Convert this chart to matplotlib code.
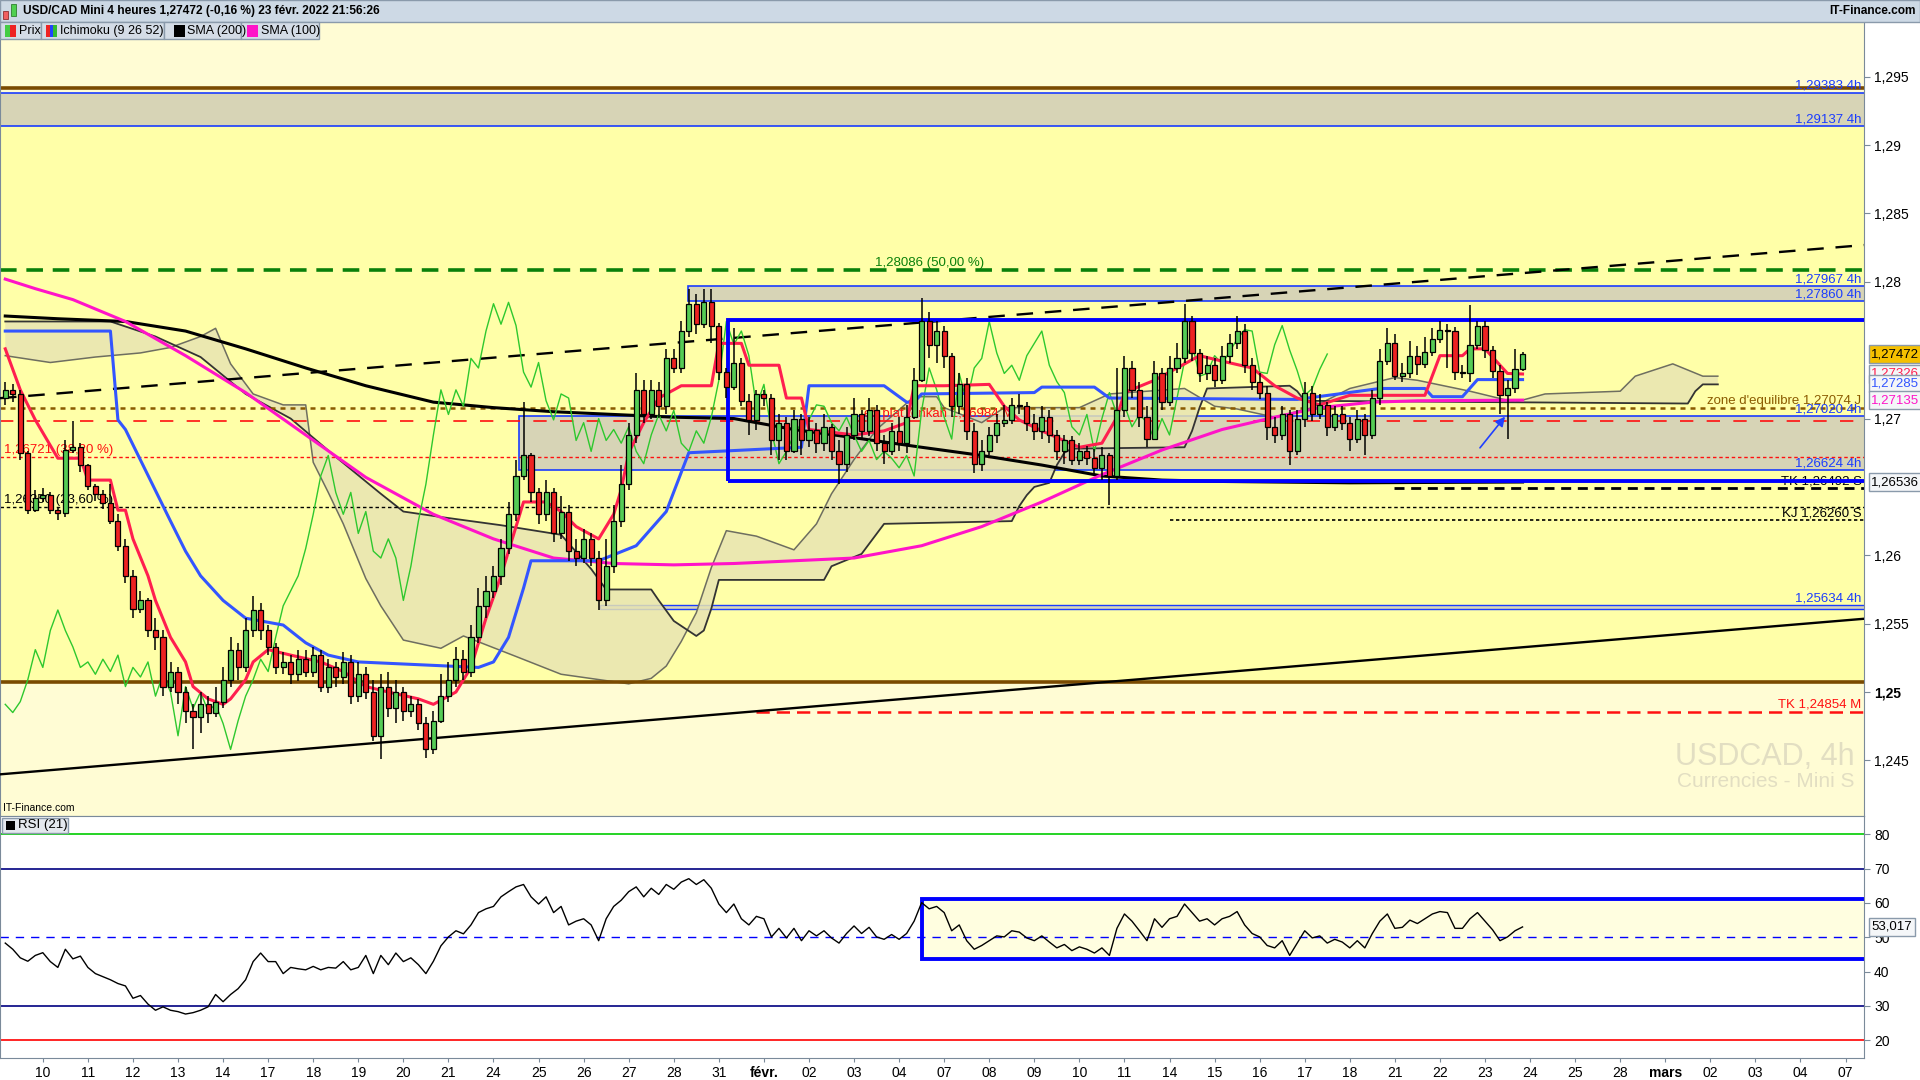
import numpy as np
import matplotlib
matplotlib.use('Agg')
import matplotlib.pyplot as plt
from matplotlib.patches import Rectangle
from matplotlib.transforms import blended_transform_factory

plt.rcParams['font.family'] = ['Liberation Sans', 'DejaVu Sans']

# USD/CAD 4h candles, 7 jan (04h) -> 23 feb 2022 (20h), 6 candles per day
open0 = 1.2715
close = [
    1.2721, 1.2718, 1.2675, 1.2633, 1.2642,
    1.2644, 1.2633, 1.2631, 1.2677, 1.2679, 1.2666,
    1.2651, 1.2645, 1.2638, 1.2625, 1.2607, 1.2585,
    1.2561, 1.2567, 1.2545, 1.2540, 1.2504, 1.2515,
    1.2500, 1.2486, 1.2482, 1.2491, 1.2485, 1.2493,
    1.2509, 1.2531, 1.2518, 1.2545, 1.2560, 1.2545,
    1.2533, 1.2518, 1.2522, 1.2513, 1.2524, 1.2515,
    1.2527, 1.2504, 1.2518, 1.2511, 1.2522, 1.2497,
    1.2513, 1.2500, 1.2468, 1.2504, 1.2488, 1.2500,
    1.2486, 1.2491, 1.2477, 1.2458, 1.2479, 1.2497,
    1.2509, 1.2524, 1.2515, 1.2540, 1.2563, 1.2574,
    1.2585, 1.2605, 1.2630, 1.2658, 1.2673, 1.2646,
    1.2630, 1.2646, 1.2616, 1.2632, 1.2603, 1.2598,
    1.2612, 1.2598, 1.2567, 1.2592, 1.2625, 1.2652,
    1.2688, 1.2721, 1.2703, 1.2721, 1.2709, 1.2744,
    1.2737, 1.2764, 1.2784, 1.2769, 1.2785, 1.2768,
    1.2734, 1.2723, 1.2741, 1.2713, 1.2699, 1.2718,
    1.2715, 1.2684, 1.2697, 1.2676, 1.2700, 1.2684,
    1.2692, 1.2682, 1.2694, 1.2676, 1.2667, 1.2688,
    1.2703, 1.2691, 1.2706, 1.2682, 1.2676, 1.2691,
    1.2682, 1.2701, 1.2728, 1.2771, 1.2754, 1.2764,
    1.2746, 1.2709, 1.2725, 1.2691, 1.2667, 1.2676,
    1.2688, 1.2697, 1.2699, 1.2710, 1.2709, 1.2697,
    1.2691, 1.2701, 1.2688, 1.2676, 1.2684, 1.2670,
    1.2676, 1.2671, 1.2664, 1.2673, 1.2658, 1.2706,
    1.2737, 1.2721, 1.2701, 1.2685, 1.2733, 1.2712,
    1.2737, 1.2744, 1.2771, 1.2748, 1.2733, 1.2739,
    1.2728, 1.2746, 1.2755, 1.2764, 1.2739, 1.2727,
    1.2719, 1.2694, 1.2688, 1.2703, 1.2676, 1.2700,
    1.2719, 1.2703, 1.2710, 1.2694, 1.2703, 1.2697,
    1.2685, 1.2700, 1.2688, 1.2715, 1.2742, 1.2755,
    1.2731, 1.2733, 1.2746, 1.2740, 1.2749, 1.2758,
    1.2765, 1.2764, 1.2734, 1.2733, 1.2754, 1.2768,
    1.2750, 1.2735, 1.2717, 1.2722, 1.2736, 1.27472,
]
high = [
    1.2727, 1.2725, 1.2721, 1.2676, 1.2648,
    1.2649, 1.2646, 1.2635, 1.2684, 1.2698, 1.2682,
    1.2667, 1.2652, 1.2648, 1.2652, 1.2630, 1.2612,
    1.2589, 1.2574, 1.2569, 1.2554, 1.2545, 1.2522,
    1.2518, 1.2504, 1.2491, 1.2500, 1.2497, 1.2504,
    1.2518, 1.2540, 1.2536, 1.2554, 1.2570, 1.2565,
    1.2549, 1.2536, 1.2529, 1.2527, 1.2531, 1.2531,
    1.2533, 1.2531, 1.2524, 1.2522, 1.2529, 1.2527,
    1.2522, 1.2518, 1.2509, 1.2513, 1.2515, 1.2509,
    1.2504, 1.2497, 1.2495, 1.2482, 1.2486, 1.2513,
    1.2522, 1.2533, 1.2531, 1.2549, 1.2576, 1.2585,
    1.2592, 1.2612, 1.2639, 1.2670, 1.2712, 1.2675,
    1.2649, 1.2655, 1.2649, 1.2643, 1.2637, 1.2612,
    1.2619, 1.2616, 1.2603, 1.2612, 1.2637, 1.2666,
    1.2697, 1.2733, 1.2728, 1.2728, 1.2727, 1.2751,
    1.2751, 1.2771, 1.2795, 1.2791, 1.2795, 1.2795,
    1.2770, 1.2737, 1.2766, 1.2744, 1.2718, 1.2721,
    1.2721, 1.2718, 1.2703, 1.2701, 1.2706, 1.2703,
    1.2701, 1.2697, 1.2703, 1.2696, 1.2684, 1.2694,
    1.2715, 1.2706, 1.2715, 1.2710, 1.2688, 1.2697,
    1.2701, 1.2710, 1.2737, 1.2788, 1.2778, 1.2771,
    1.2768, 1.2748, 1.2733, 1.2730, 1.2697, 1.2684,
    1.2694, 1.2703, 1.2710, 1.2715, 1.2718, 1.2712,
    1.2703, 1.2709, 1.2706, 1.2692, 1.2688, 1.2687,
    1.2682, 1.2680, 1.2678, 1.2679, 1.2675, 1.2737,
    1.2746, 1.2742, 1.2727, 1.2709, 1.2742, 1.2737,
    1.2746, 1.2755, 1.2784, 1.2775, 1.2751, 1.2746,
    1.2744, 1.2753, 1.2762, 1.2775, 1.2769, 1.2744,
    1.2733, 1.2724, 1.2701, 1.2709, 1.2706, 1.2706,
    1.2727, 1.2724, 1.2718, 1.2712, 1.2709, 1.2709,
    1.2701, 1.2706, 1.2703, 1.2721, 1.2751, 1.2766,
    1.2762, 1.2741, 1.2757, 1.2753, 1.2760, 1.2766,
    1.2771, 1.2769, 1.2767, 1.2739, 1.2783, 1.2771,
    1.2771, 1.2753, 1.2739, 1.2728, 1.2751, 1.2749,
]
low = [
    1.2710, 1.2712, 1.2670, 1.2630, 1.2632,
    1.2639, 1.2630, 1.2626, 1.2628, 1.2675, 1.2661,
    1.2648, 1.2640, 1.2634, 1.2623, 1.2603, 1.2580,
    1.2554, 1.2558, 1.2540, 1.2531, 1.2497, 1.2500,
    1.2491, 1.2477, 1.2458, 1.2470, 1.2477, 1.2482,
    1.2488, 1.2504, 1.2509, 1.2515, 1.2540, 1.2538,
    1.2527, 1.2513, 1.2513, 1.2506, 1.2508, 1.2511,
    1.2511, 1.2500, 1.2499, 1.2504, 1.2506, 1.2491,
    1.2493, 1.2495, 1.2464, 1.2451, 1.2482, 1.2477,
    1.2479, 1.2482, 1.2472, 1.2452, 1.2455, 1.2477,
    1.2493, 1.2504, 1.2509, 1.2511, 1.2536, 1.2554,
    1.2569, 1.2578, 1.2601, 1.2625, 1.2655, 1.2639,
    1.2623, 1.2625, 1.2610, 1.2612, 1.2596, 1.2592,
    1.2594, 1.2592, 1.2560, 1.2563, 1.2587, 1.2621,
    1.2648, 1.2682, 1.2697, 1.2700, 1.2701, 1.2703,
    1.2733, 1.2733, 1.2760, 1.2762, 1.2766, 1.2755,
    1.2728, 1.2715, 1.2721, 1.2709, 1.2688, 1.2692,
    1.2709, 1.2673, 1.2670, 1.2670, 1.2675, 1.2673,
    1.2679, 1.2675, 1.2676, 1.2670, 1.2652, 1.2661,
    1.2684, 1.2685, 1.2687, 1.2676, 1.2667, 1.2673,
    1.2676, 1.2675, 1.2700, 1.2727, 1.2744, 1.2741,
    1.2737, 1.2701, 1.2703, 1.2684, 1.2660, 1.2662,
    1.2673, 1.2682, 1.2694, 1.2696, 1.2703, 1.2691,
    1.2684, 1.2685, 1.2682, 1.2670, 1.2667, 1.2666,
    1.2666, 1.2666, 1.2658, 1.2655, 1.2637, 1.2655,
    1.2701, 1.2715, 1.2694, 1.2679, 1.2684, 1.2706,
    1.2709, 1.2733, 1.2741, 1.2742, 1.2727, 1.2728,
    1.2723, 1.2725, 1.2741, 1.2751, 1.2733, 1.2721,
    1.2714, 1.2684, 1.2682, 1.2684, 1.2666, 1.2673,
    1.2694, 1.2698, 1.2700, 1.2687, 1.2691, 1.2692,
    1.2676, 1.2682, 1.2673, 1.2685, 1.2710, 1.2739,
    1.2728, 1.2727, 1.2730, 1.2732, 1.2737, 1.2746,
    1.2755, 1.2737, 1.2728, 1.2730, 1.2727, 1.2751,
    1.2744, 1.2730, 1.2703, 1.2685, 1.2719, 1.2735,
]

# RSI(21), one value per candle
rsi = [
    48.3, 46.5, 44.0, 43.0, 44.7, 45.5, 42.9, 41.2, 46.5, 43.7,
    44.5, 41.2, 39.4, 38.5, 37.6, 36.5, 35.8, 32.2, 33.0, 30.5,
    28.7, 29.7, 28.7, 28.3, 27.6, 28.0, 28.7, 29.7, 33.3, 31.2,
    33.3, 35.0, 37.6, 42.9, 45.4, 42.9, 42.9, 39.4, 41.2, 40.8,
    40.5, 41.5, 40.5, 41.2, 41.0, 42.9, 40.5, 41.2, 44.7, 39.4,
    44.7, 42.0, 45.4, 42.9, 44.0, 42.0, 39.4, 43.0, 47.5, 50.1,
    51.9, 51.0, 53.6, 57.2, 58.3, 59.0, 61.8, 63.3, 64.7, 65.4,
    61.8, 59.7, 61.8, 57.2, 59.0, 53.6, 54.7, 55.4, 53.6, 49.0,
    55.4, 59.0, 60.8, 63.3, 64.7, 61.8, 64.3, 62.5, 65.4, 64.0,
    66.1, 67.1, 65.4, 66.8, 64.3, 59.7, 57.2, 59.7, 55.4, 53.6,
    56.1, 55.4, 50.1, 52.6, 49.8, 52.6, 49.0, 51.9, 50.4, 51.9,
    49.8, 48.3, 51.1, 53.3, 51.1, 52.9, 50.1, 49.4, 50.8, 49.4,
    51.1, 54.7, 60.1, 58.3, 59.0, 57.2, 51.9, 53.6, 49.0, 46.5,
    47.6, 49.0, 50.4, 50.1, 51.9, 51.5, 49.8, 49.0, 50.4, 48.6,
    46.9, 47.9, 46.1, 47.2, 46.5, 45.4, 46.9, 44.7, 52.6, 56.8,
    54.7, 51.9, 49.0, 55.4, 52.9, 55.4, 56.1, 59.7, 57.2, 54.7,
    55.4, 53.6, 55.4, 56.1, 57.5, 53.6, 51.1, 50.1, 47.6, 46.9,
    49.0, 44.7, 48.3, 51.9, 49.8, 50.4, 48.3, 49.4, 48.6, 46.9,
    49.0, 46.9, 51.1, 54.7, 56.8, 52.6, 52.9, 55.0, 54.0, 55.4,
    56.8, 57.5, 57.2, 52.6, 52.6, 55.4, 57.2, 54.7, 52.2, 49.0,
    50.1, 51.9, 53.017,
]

# Ichimoku lines and moving averages (candle index, price)
tenkan_k = [0, 2, 4, 7, 10, 11, 14, 15, 16, 17, 19, 20, 22, 24, 25, 27, 29, 30, 32, 33,
            35, 38, 42, 45, 48, 51, 55, 57, 60, 62, 64, 66, 68, 69, 72, 74, 76, 79, 81, 82,
            83, 85, 87, 90, 94, 95, 98, 99, 103, 104, 106, 107, 113, 117, 120, 121, 125, 131,
            133, 135, 138, 143, 146, 148, 149, 153, 156, 159, 162, 166, 169, 172, 175, 179,
            183, 189, 191, 194, 195, 197, 200, 202]
tenkan_v = [1.2751, 1.2721, 1.2699, 1.2671, 1.2671, 1.2655, 1.2655, 1.2633, 1.2633, 1.2612,
            1.2585, 1.2567, 1.2540, 1.2522, 1.2504, 1.2495, 1.2491, 1.2495, 1.2509, 1.2522,
            1.2531, 1.2527, 1.2522, 1.2515, 1.2504, 1.2500, 1.2495, 1.2491, 1.2500, 1.2518,
            1.2554, 1.2585, 1.2621, 1.2639, 1.2639, 1.2632, 1.2621, 1.2612, 1.2630, 1.2648,
            1.2675, 1.2697, 1.2715, 1.2724, 1.2724, 1.2755, 1.2755, 1.2739, 1.2739, 1.2715,
            1.2715, 1.2692, 1.2688, 1.2691, 1.2697, 1.2724, 1.2724, 1.2725, 1.2709, 1.2699,
            1.2691, 1.2679, 1.2682, 1.2701, 1.2719, 1.2728, 1.2737, 1.2746, 1.2742, 1.2737,
            1.2724, 1.2715, 1.2710, 1.2717, 1.2717, 1.2717, 1.2746, 1.2746, 1.2751, 1.2751,
            1.2733, 1.27326]
kijun_k = [0, 14, 15, 16, 22, 24, 26, 29, 32, 37, 40, 43, 47, 63, 65, 67, 69, 70, 79, 84,
           88, 91, 106, 107, 117, 120, 121, 122, 137, 138, 145, 147, 172, 183, 189, 190,
           194, 196, 202]
kijun_v = [1.2764, 1.2764, 1.2699, 1.2692, 1.2625, 1.2603, 1.2585, 1.2567, 1.2554, 1.2549,
           1.2536, 1.2527, 1.2522, 1.2518, 1.2522, 1.2540, 1.2576, 1.2596, 1.2596, 1.2607,
           1.2632, 1.2675, 1.2679, 1.2724, 1.2724, 1.2712, 1.2712, 1.2718, 1.2719, 1.2723,
           1.2723, 1.2715, 1.2714, 1.2722, 1.2722, 1.2716, 1.2716, 1.27285, 1.27285]
senkou_a_k = [0, 6, 12, 18, 22, 26, 28, 30, 33, 37, 40, 41, 43, 45, 48, 50, 53, 58, 61, 68,
              74, 83, 86, 88, 90, 92, 94, 96, 100, 105, 108, 110, 113, 116, 121, 124, 125,
              130, 133, 143, 147, 157, 161, 164, 169, 174, 179, 185, 188, 195, 201, 205, 215,
              217, 222, 226, 228]
senkou_a_v = [1.2746, 1.2741, 1.2745, 1.2748, 1.2752, 1.2760, 1.2766, 1.2740, 1.2718, 1.2710,
              1.2710, 1.2668, 1.2646, 1.2623, 1.2583, 1.2563, 1.2538, 1.2532, 1.2541, 1.2526,
              1.2513, 1.2506, 1.2510, 1.2519, 1.2537, 1.2558, 1.2591, 1.2618, 1.2614, 1.2604,
              1.2623, 1.2645, 1.2670, 1.2692, 1.2716, 1.2716, 1.2708, 1.2697, 1.2708, 1.2708,
              1.2718, 1.2722, 1.2709, 1.2707, 1.2701, 1.2708, 1.2722, 1.2730, 1.2728, 1.2720,
              1.2712, 1.2718, 1.2720, 1.2731, 1.2740, 1.2731, 1.2731]
senkou_b_k = [0, 14, 20, 26, 32, 38, 44, 50, 53, 58, 66, 74, 78, 80, 86, 87, 89, 92, 93, 94,
              95, 109, 110, 114, 117, 134, 135, 136, 137, 139, 140, 141, 142, 157, 158, 159,
              160, 171, 172, 173, 224, 225, 226, 228]
senkou_b_v = [1.2771, 1.2771, 1.2760, 1.2745, 1.2718, 1.2700, 1.2672, 1.2645, 1.2632, 1.2628,
              1.2622, 1.2615, 1.2590, 1.2575, 1.2575, 1.2567, 1.2552, 1.2541, 1.2545, 1.2561,
              1.2582, 1.2582, 1.2592, 1.2601, 1.2623, 1.2625, 1.2636, 1.2644, 1.2650, 1.2653,
              1.2666, 1.2675, 1.2678, 1.2679, 1.2691, 1.2708, 1.2722, 1.2724, 1.2720, 1.2713,
              1.2711, 1.2720, 1.2725, 1.2725]
sma200_k = [0, 7, 16, 24, 32, 40, 48, 57, 65, 73, 81, 89, 97, 105, 113, 122, 130, 138, 146,
            154, 162, 179, 202]
sma200_v = [1.2775, 1.2773, 1.2771, 1.2764, 1.2751, 1.2737, 1.2724, 1.2712, 1.2708, 1.2705,
            1.2703, 1.2701, 1.2700, 1.2692, 1.2686, 1.2679, 1.2673, 1.2666, 1.2658, 1.2655,
            1.2654, 1.2653, 1.26536]
sma100_k = [0, 4, 9, 16, 24, 32, 40, 48, 57, 65, 73, 81, 89, 97, 105, 113, 122, 130, 138,
            146, 154, 162, 169, 175, 182, 188, 202]
sma100_v = [1.2802, 1.2795, 1.2787, 1.2771, 1.2746, 1.2719, 1.2688, 1.2657, 1.2630, 1.2612,
            1.2598, 1.2594, 1.2593, 1.2594, 1.2596, 1.2598, 1.2607, 1.2621, 1.2639, 1.2659,
            1.2677, 1.2692, 1.2701, 1.2708, 1.2712, 1.2713, 1.27135]

# drawn trend lines (ends at chart edges)
trend_k = [-0.7, 247.5]
trend_top = [1.27149, 1.28269]
trend_bottom = [1.24398, 1.25536]

day_labels = ['10', '11', '12', '13', '14', '17', '18', '19', '20', '21', '24', '25', '26',
              '27', '28', '31', 'févr.', '02', '03', '04', '07', '08', '09', '10', '11', '14',
              '15', '16', '17', '18', '21', '22', '23', '24', '25', '28', 'mars', '02', '03',
              '04', '07']
price_ticks = [1.245, 1.25, 1.255, 1.26, 1.27, 1.28, 1.285, 1.29, 1.295]
price_tick_labels = ['1,245', '1,25', '1,255', '1,26', '1,27', '1,28', '1,285', '1,29', '1,295']
rsi_ticks = [20, 30, 40, 50, 60, 70, 80]

assert len(close) == len(high) == len(low) == len(rsi)

close = np.array(close)
high = np.array(high)
low = np.array(low)
x = np.arange(len(close))
opens = np.r_[open0, close[:-1]]
XMIN, XMAX = -0.7, 247.5

fig = plt.figure(figsize=(19.2, 10.8), dpi=100, facecolor='white')
ax = fig.add_axes([0.0, 0.2444, 0.9710, 0.7352])
ar = fig.add_axes([0.0, 0.0204, 0.9710, 0.2240], sharex=ax)

ax.set_xlim(XMIN, XMAX)
ax.set_ylim(1.24093, 1.29900)
ax.set_facecolor('#fffcd4')
ax.add_patch(Rectangle((-5, 1.2507), 300, 1.29137 - 1.2507, fc='#ffffa8', ec='none', zorder=0.2))

BLUE = '#1a3cff'
GRAY_ZONE = '#d7d4b6'
# horizontal zones (4h levels)
ax.add_patch(Rectangle((-5, 1.29137), 300, 1.29383 - 1.29137, fc=GRAY_ZONE, ec=BLUE, lw=1.2, zorder=1))
ax.add_patch(Rectangle((90.9, 1.2786), 300, 1.27967 - 1.2786, fc=GRAY_ZONE, ec=BLUE, lw=1.2, zorder=1))
ax.add_patch(Rectangle((68.4, 1.26624), 300, 1.2702 - 1.26624, fc=GRAY_ZONE, ec=BLUE, lw=1.2, zorder=1))
ax.add_patch(Rectangle((79.2, 1.2561), 300, 1.25634 - 1.2561, fc=GRAY_ZONE, ec=BLUE, lw=1.0, zorder=1))

# ichimoku cloud
cloud_x = np.r_[senkou_a_k, senkou_b_k[::-1]]
cloud_y = np.r_[senkou_a_v, senkou_b_v[::-1]]
ax.fill(cloud_x, cloud_y, color='#e8e4b2', alpha=0.85, lw=0, zorder=1.5)
ax.plot(senkou_a_k, senkou_a_v, color='#6e6e60', lw=1.1, zorder=1.6)
ax.plot(senkou_b_k, senkou_b_v, color='#333333', lw=1.3, zorder=1.6)

# watermark
ax.text(0.995, 0.074, 'USDCAD, 4h', transform=ax.transAxes, ha='right', va='center',
        fontsize=22, color='#e2dec2', zorder=1.2)
ax.text(0.995, 0.043, 'Currencies - Mini S', transform=ax.transAxes, ha='right', va='center',
        fontsize=15, color='#e2dec2', zorder=1.2)
ax.text(0.0015, 0.004, 'IT-Finance.com', transform=ax.transAxes, ha='left', va='bottom',
        fontsize=7.5, color='black', zorder=8)

# level lines
ax.axhline(1.29414, color='#7a4a00', lw=2.6, zorder=2)
ax.axhline(1.2507, color='#7a4a00', lw=2.6, zorder=2)
ax.axhline(1.28086, color='#0a800a', lw=2.6, ls=(0, (4.6, 2.7)), zorder=2)
ax.axhline(1.26984, color='#ff1010', lw=1.2, ls=(0, (8, 8)), zorder=2)
ax.axhline(1.27074, color='#8a5a00', lw=1.8, ls=(0, (2.0, 2.0)), zorder=2)
ax.axhline(1.26721, color='#ff1010', lw=1.0, ls=(0, (2.5, 2)), zorder=2)
ax.axhline(1.2635, color='black', lw=1.0, ls=(0, (2.5, 2)), zorder=2)
ax.hlines(1.24854, 99.9, XMAX, color='#ff1010', lw=1.8, ls=(0, (5.3, 2.8)), zorder=2)
ax.hlines(1.26492, 184.9, XMAX, color='black', lw=2.0, ls=(0, (3.6, 2.4)), zorder=2)
ax.hlines(1.2626, 155.0, XMAX, color='black', lw=1.2, ls=(0, (2, 1.6)), zorder=2)
ax.plot(trend_k, trend_top, color='black', lw=1.7, ls=(0, (7, 5)), zorder=3)
ax.plot(trend_k, trend_bottom, color='black', lw=1.7, zorder=3)

# level labels
tr = blended_transform_factory(ax.transAxes, ax.transData)
right_labels = [
    (1.29392, '1,29383 4h', BLUE), (1.29142, '1,29137 4h', BLUE),
    (1.27972, '1,27967 4h', BLUE), (1.27865, '1,27860 4h', BLUE),
    (1.27085, "zone d'equilibre 1,27074 J", '#8a5a00'), (1.27022, '1,27020 4h', BLUE),
    (1.26628, '1,26624 4h', BLUE), (1.26497, 'TK 1,26492 S', 'black'),
    (1.26265, 'KJ 1,26260 S', 'black'), (1.25638, '1,25634 4h', BLUE),
    (1.24862, 'TK 1,24854 M', '#ff1010'),
]
for yv, txt, col in right_labels:
    ax.text(0.9985, yv, txt, transform=tr, ha='right', va='bottom', fontsize=9.5,
            color=col, zorder=2.5)
ax.text(0.002, 1.26728, '1,26721 (38,20 %)', transform=tr, ha='left', va='bottom',
        fontsize=9.5, color='#ff1010', zorder=2.5)
ax.text(0.002, 1.26357, '1,26350 (23,60 %)', transform=tr, ha='left', va='bottom',
        fontsize=9.5, color='black', zorder=2.5)
ax.text(123.0, 1.28095, '1,28086 (50,00 %)', ha='center', va='bottom', fontsize=9.5,
        color='#0a800a', zorder=2.5)
ax.text(114.3, 1.26992, 'eq plat tenkan 1,26984 M', ha='left', va='bottom', fontsize=9.5,
        color='#ff1010', zorder=2.5)

# blue range box
ax.add_patch(Rectangle((96.2, 1.2654), 300, 1.27722 - 1.2654, fill=False, ec='#0000ff',
                       lw=2.8, zorder=3.5))

# moving averages and ichimoku lines
ax.plot(sma200_k, sma200_v, color='black', lw=2.2, zorder=3)
ax.plot(sma100_k, sma100_v, color='#ff14c8', lw=2.2, zorder=3)
ax.plot(x[26:] - 26, close[26:], color='#2ec82e', lw=1.0, zorder=3)
ax.plot(kijun_k, kijun_v, color='#3355ff', lw=2.2, zorder=3.2)
ax.plot(tenkan_k, tenkan_v, color='#ff1f4f', lw=2.2, zorder=3.3)

# candles
up = close >= opens
body_lo = np.minimum(opens, close)
body_h = np.maximum(np.abs(close - opens), 0.00004)
ax.vlines(x, low, high, color='black', lw=1.1, zorder=4)
ax.bar(x[up], body_h[up], 0.68, body_lo[up], color='#55cc55', edgecolor='black', lw=0.9, zorder=5)
ax.bar(x[~up], body_h[~up], 0.68, body_lo[~up], color='#ee2222', edgecolor='black', lw=0.9, zorder=5)

ax.annotate('', xy=(199.9, 1.2703), xytext=(196.1, 1.2677),
            arrowprops=dict(arrowstyle='-|>', color='#2040ff', lw=1.2, mutation_scale=14), zorder=6)

# price axis
ax.yaxis.tick_right()
ax.set_yticks(price_ticks)
ax.set_yticklabels(price_tick_labels)
for lab in ax.get_yticklabels():
    if lab.get_text() == '1,25':
        lab.set_fontweight('bold')
ax.tick_params(axis='y', labelsize=10, length=4, color='#7a8a9a', pad=3)
ax.tick_params(axis='x', bottom=False, labelbottom=False)
for side in ['left', 'right', 'bottom']:
    ax.spines[side].set_color('#7a8a9a')
ax.spines['top'].set_visible(False)

def tag(axis, yv, txt, fc, tc):
    axis.annotate(txt, xy=(1.0, yv), xycoords=('axes fraction', 'data'), xytext=(5, 0),
                  textcoords='offset points', ha='left', va='center', fontsize=9.5, color=tc,
                  bbox=dict(boxstyle='square,pad=0.2', fc=fc, ec='#8a9aab', lw=1),
                  annotation_clip=False, zorder=10)

tag(ax, 1.27472, '1,27472', '#f5c000', 'black')
tag(ax, 1.27326, '1,27326', '#f4f6f8', '#ff1f4f')
tag(ax, 1.27255, '1,27285', '#f4f6f8', '#3355ff')
tag(ax, 1.27135, '1,27135', '#f4f6f8', '#ff14c8')
tag(ax, 1.26536, '1,26536', '#f4f6f8', 'black')

# RSI panel
ar.set_ylim(14.78, 85.37)
ar.set_facecolor('white')
ar.add_patch(Rectangle((122.1, 43.65), 300, 61.3 - 43.65, fc='#fffee0', ec='#0000ff', lw=2.8, zorder=1))
ar.axhline(80, color='#00cc00', lw=1.2, zorder=1.5)
ar.axhline(70, color='#000080', lw=1.2, zorder=1.5)
ar.axhline(30, color='#000080', lw=1.2, zorder=1.5)
ar.axhline(20, color='#ff0000', lw=1.2, zorder=1.5)
ar.axhline(50, color='#0000ff', lw=1.0, ls=(0, (6, 5)), zorder=1.5)
ar.plot(x, rsi, color='black', lw=1.0, zorder=3)
ar.yaxis.tick_right()
ar.set_yticks(rsi_ticks)
ar.tick_params(axis='y', labelsize=10, length=4, color='#7a8a9a', pad=3)
tag(ar, rsi[-1], '53,017', '#f4f6f8', 'black')
for side in ar.spines:
    ar.spines[side].set_color('#7a8a9a')

day_pos = [6 * i + 5 for i in range(len(day_labels))]
ar.set_xticks(day_pos)
ar.set_xticklabels(day_labels, fontsize=10,
                   family=['Liberation Sans Narrow', 'DejaVu Sans Condensed', 'Liberation Sans'])
for lab in ar.get_xticklabels():
    if lab.get_text() in ('févr.', 'mars'):
        lab.set_fontweight('bold')
ar.tick_params(axis='x', length=3, color='#7a8a9a', pad=3)
ar.set_xlim(XMIN, XMAX)

# title bar
fig.add_artist(Rectangle((0, 0.9796), 1, 0.0204, transform=fig.transFigure,
                         fc='#cdd9e5', ec='#8a9aab', lw=1, zorder=20))
fig.add_artist(Rectangle((0.0018, 0.9825), 0.0026, 0.0075, transform=fig.transFigure,
                         fc='#f06060', ec='#903030', lw=0.6, zorder=21))
fig.add_artist(Rectangle((0.0057, 0.9850), 0.0026, 0.0110, transform=fig.transFigure,
                         fc='#50d050', ec='#308030', lw=0.6, zorder=21))
fig.text(0.0120, 0.9898, 'USD/CAD Mini 4 heures 1,27472 (-0,16 %) 23 févr. 2022 21:56:26',
         fontsize=8.6, fontweight='bold', va='center', ha='left', zorder=22)
fig.text(0.998, 0.9898, 'IT-Finance.com', fontsize=8.6, fontweight='bold', va='center',
         ha='right', zorder=22)

# legend row
legend_items = [('Prix', 0.0, 0.0213, 0.0099), ('Ichimoku (9 26 52)', 0.0213, 0.0854, 0.0313),
                ('SMA (200)', 0.0854, 0.1255, 0.0974), ('SMA (100)', 0.1255, 0.1661, 0.1359)]
for name, x0, x1, tx in legend_items:
    fig.add_artist(Rectangle((x0, 0.9639), x1 - x0, 0.0157, transform=fig.transFigure,
                             fc='#d4dce6', ec='#8a9aab', lw=1, zorder=20))
    fig.text(tx, 0.9716, name, fontsize=9, va='center', ha='left', zorder=22)
icons = [(0.0026, ['#44cc44', '#ee2222']), (0.0240, ['#ee2222', '#2244ff', '#33bb33']),
         (0.0906, ['black']), (0.1286, ['#ff14c8'])]
for x0, cols in icons:
    w = 0.0056 / len(cols)
    for i, c in enumerate(cols):
        fig.add_artist(Rectangle((x0 + i * w, 0.9660), w, 0.0110, transform=fig.transFigure,
                                 fc=c, ec='none', zorder=21))

# RSI label
fig.add_artist(Rectangle((0.001, 0.2287), 0.0344, 0.0139, transform=fig.transFigure,
                         fc='#e4e8ee', ec='#8a9aab', lw=1, zorder=20))
fig.add_artist(Rectangle((0.0031, 0.2315), 0.0047, 0.0083, transform=fig.transFigure,
                         fc='black', ec='none', zorder=21))
fig.text(0.0094, 0.2357, 'RSI (21)', fontsize=9.5, va='center', ha='left', zorder=22)

fig.savefig('out.png', dpi=100, facecolor='white')
